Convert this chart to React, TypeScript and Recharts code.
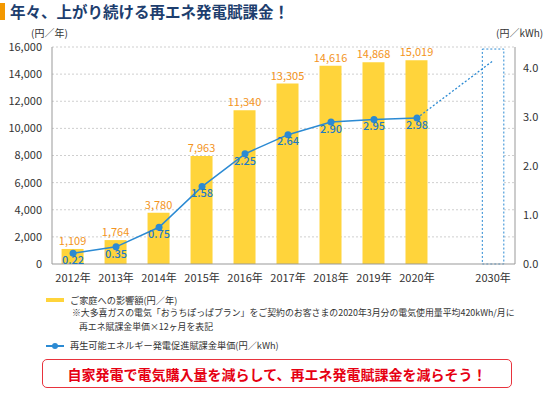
import { Bar, CartesianGrid, ComposedChart, LabelList, Line, ReferenceArea, XAxis, YAxis } from "recharts"

const years = ['2012年', '2013年', '2014年', '2015年', '2016年', '2017年', '2018年', '2019年', '2020年', '2030年']
// 2030 sits a little closer than two slots after 2020
const slots = [0, 1, 2, 3, 4, 5, 6, 7, 8, 9.77]
const household = [1109, 1764, 3780, 7963, 11340, 13305, 14616, 14868, 15019, null]
const unitPrice = [0.22, 0.35, 0.75, 1.58, 2.25, 2.64, 2.90, 2.95, 2.98, null]
const forecast = [null, null, null, null, null, null, null, null, 2.98, 4.15]

const leftTicks = [0, 2000, 4000, 6000, 8000, 10000, 12000, 14000, 16000]
const rightTicks = [0, 1, 2, 3, 4]
const gridValues = [1000, 2000, 3000, 4000, 5000, 6000, 7000, 8000, 9000, 10000, 11000, 12000, 13000, 14000, 15000, 16000]

const data = years.map((y, i) => ({
  x: slots[i],
  year: y,
  household: household[i],
  unitPrice: unitPrice[i],
  forecast: forecast[i],
}))

const FONT = '"Noto Sans CJK JP", "Noto Sans", sans-serif'
const YELLOW = '#ffd43b'
const ORANGE = '#f39422'
const BLUE = '#2b8ad3'
const BLUE_TXT = '#1f7bc4'

export default function App() {
  return (
    <div style={{ position: 'absolute', left: 0, top: 0, width: 556, height: 393, background: '#fff', fontFamily: FONT, color: '#333' }}>
      <div style={{ position: 'absolute', left: 0, top: 3, width: 5, height: 17, background: '#f39800' }} />
      <div style={{ position: 'absolute', left: 10, top: 1, fontSize: 15.5, fontWeight: 'bold', color: '#1d3e6e', lineHeight: '20px' }}>
        年々、上がり続ける再エネ発電賦課金！
      </div>
      <div style={{ position: 'absolute', left: 31, top: 26, fontSize: 10, lineHeight: '14px' }}>(円／年)</div>
      <div style={{ position: 'absolute', left: 496, top: 26, fontSize: 10, lineHeight: '14px' }}>(円／kWh)</div>

      <div style={{ position: 'absolute', left: 0, top: 0 }}>
        <ComposedChart width={556} height={290} data={data} margin={{ top: 47, right: 0, bottom: 0, left: 0 }}>
          <CartesianGrid horizontal vertical={false} yAxisId="left" horizontalValues={gridValues} stroke="#cfcfcf" strokeDasharray="2 2" />
          <XAxis
            dataKey="x"
            type="number"
            domain={[-0.49, 10.28]}
            ticks={slots}
            tickFormatter={(v: number) => years[slots.indexOf(v)] ?? ''}
            tick={{ fill: '#333', fontSize: 11, fontFamily: FONT }}
            tickLine={false}
            axisLine={{ stroke: '#999' }}
            height={26}
            tickMargin={4}
            allowDataOverflow
          />
          <YAxis
            yAxisId="left"
            domain={[0, 16000]}
            ticks={leftTicks}
            tickFormatter={(v: number) => v.toLocaleString('en-US')}
            tick={{ fill: '#333', fontSize: 11, fontFamily: FONT }}
            tickLine={false}
            tickMargin={4}
            axisLine={{ stroke: '#999' }}
            width={52}
          />
          <YAxis
            yAxisId="right"
            orientation="right"
            domain={[0, 4.43]}
            ticks={rightTicks}
            tickFormatter={(v: number) => v.toFixed(1)}
            tick={{ fill: '#333', fontSize: 11, fontFamily: FONT }}
            tickLine={false}
            tickMargin={2}
            axisLine={{ stroke: '#999' }}
            width={41}
            allowDataOverflow
          />
          <Bar yAxisId="left" dataKey="household" fill={YELLOW} barSize={22} isAnimationActive={false}>
            <LabelList
              dataKey="household"
              position="top"
              offset={4}
              formatter={(v: any) => (v == null ? '' : Number(v).toLocaleString('en-US'))}
              style={{ fill: ORANGE, fontSize: 11, fontFamily: FONT }}
            />
          </Bar>
          <ReferenceArea
            yAxisId="left"
            x1={9.77 - 0.25}
            x2={9.77 + 0.25}
            y1={0}
            y2={15850}
            fill="#fff"
            fillOpacity={1}
            stroke={BLUE}
            strokeDasharray="2 2"
            ifOverflow="visible"
          />
          <Line
            yAxisId="right"
            dataKey="forecast"
            stroke={BLUE}
            strokeWidth={1.3}
            strokeDasharray="2 2"
            dot={false}
            connectNulls
            isAnimationActive={false}
          />
          <Line
            yAxisId="right"
            dataKey="unitPrice"
            stroke={BLUE}
            strokeWidth={1.5}
            dot={{ r: 3.5, fill: BLUE, stroke: BLUE, strokeWidth: 0 }}
            isAnimationActive={false}
          >
            <LabelList
              dataKey="unitPrice"
              position="bottom"
              offset={3}
              formatter={(v: any) => (v == null ? '' : Number(v).toFixed(2))}
              style={{ fill: BLUE_TXT, fontSize: 11, fontFamily: FONT, fontWeight: 500 }}
            />
          </Line>
        </ComposedChart>
      </div>

      <div style={{ position: 'absolute', left: 46, top: 298, width: 18, height: 4, background: YELLOW }} />
      <div style={{ position: 'absolute', left: 70, top: 293, fontSize: 9.2, lineHeight: '14px' }}>ご家庭への影響額(円／年)</div>
      <div style={{ position: 'absolute', left: 72, top: 306, fontSize: 8.9, lineHeight: '14px', whiteSpace: 'nowrap' }}>
        ※大多喜ガスの電気「おうちぽっぱプラン」をご契約のお客さまの2020年3月分の電気使用量平均420kWh/月に
      </div>
      <div style={{ position: 'absolute', left: 79, top: 320, fontSize: 8.9, lineHeight: '14px' }}>再エネ賦課金単価×12ヶ月を表記</div>

      <div style={{ position: 'absolute', left: 46, top: 345, width: 18, height: 1.5, background: BLUE }} />
      <div style={{ position: 'absolute', left: 52, top: 342.5, width: 6, height: 6, borderRadius: 3, background: BLUE }} />
      <div style={{ position: 'absolute', left: 70, top: 338, fontSize: 9.2, lineHeight: '14px' }}>再生可能エネルギー発電促進賦課金単価(円／kWh)</div>

      <div
        style={{
          position: 'absolute',
          left: 42,
          top: 359,
          width: 468,
          height: 27,
          border: '1.5px solid #e8333d',
          borderRadius: 5,
          color: '#e60012',
          fontSize: 14,
          fontWeight: 'bold',
          display: 'flex',
          alignItems: 'center',
          justifyContent: 'center',
        }}
      >
        自家発電で電気購入量を減らして、再エネ発電賦課金を減らそう！
      </div>
    </div>
  )
}
